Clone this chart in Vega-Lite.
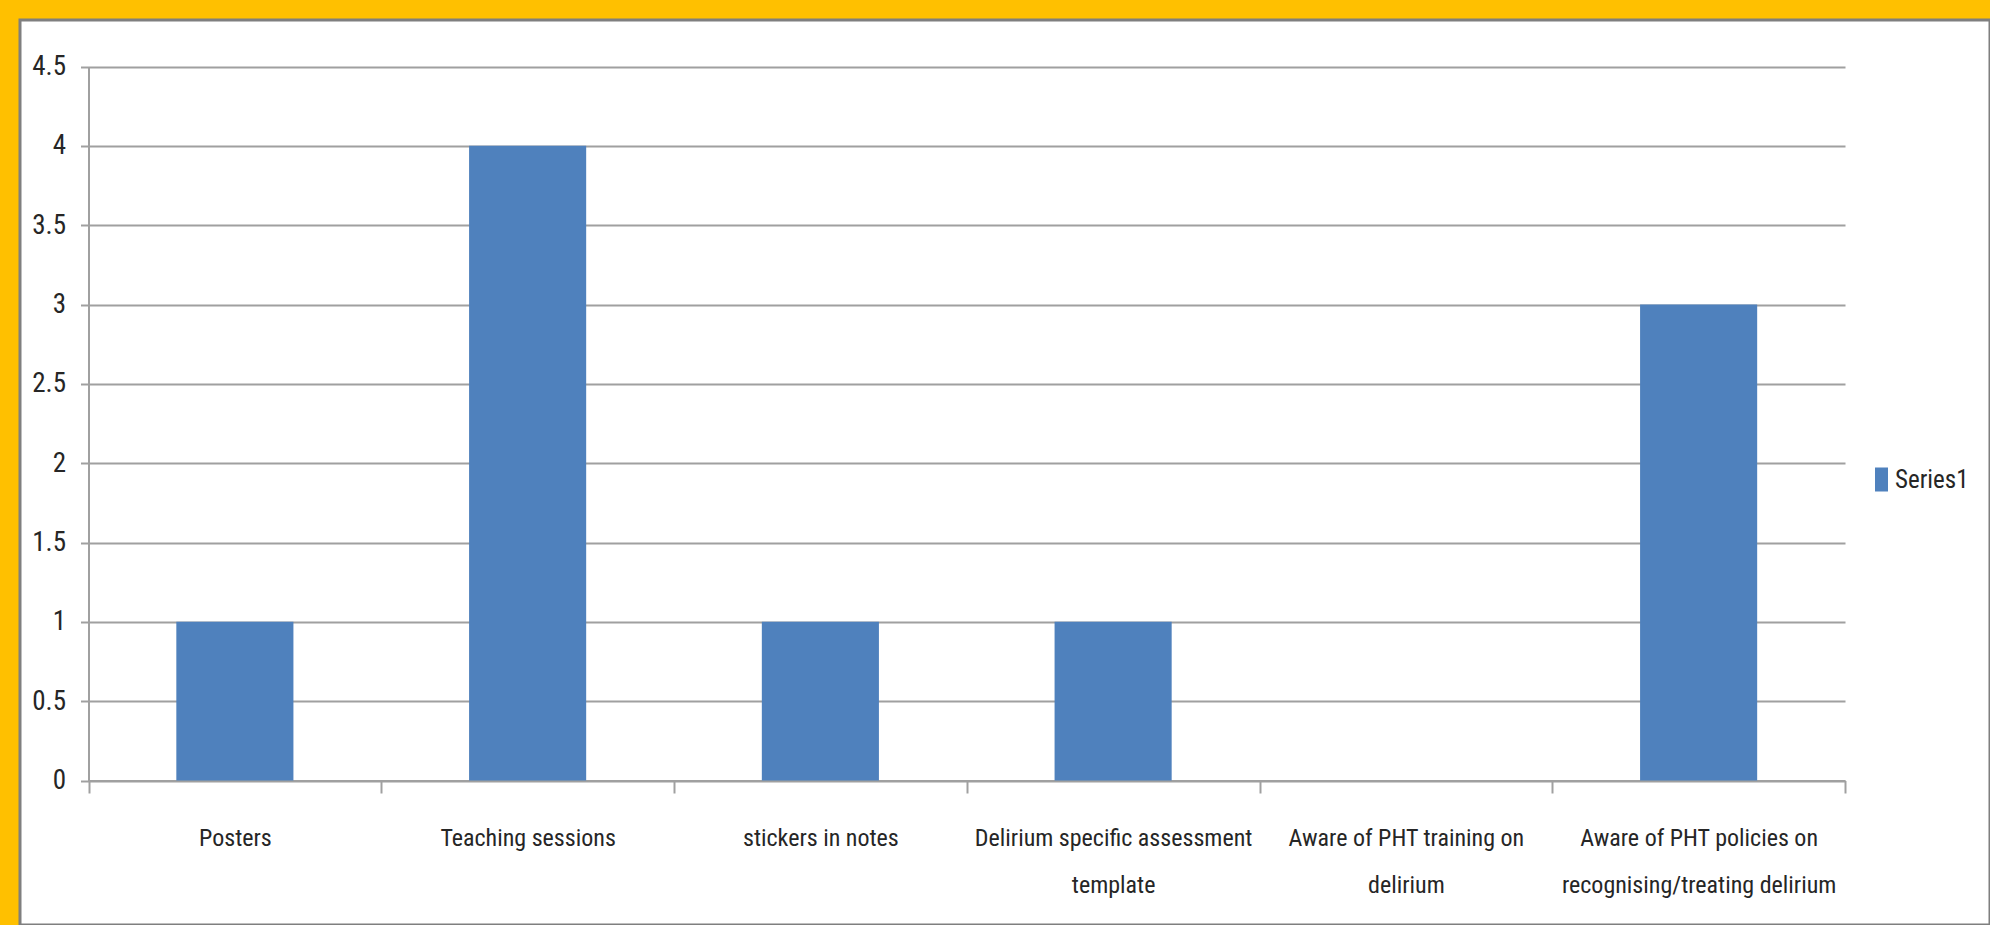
{
  "$schema": "https://vega.github.io/schema/vega-lite/v6.json",
  "autosize": {"type": "none"},
  "padding": {"left": 20, "top": 20, "right": 0, "bottom": 0},
  "width": 1970,
  "height": 905,
  "background": "#FFC000",
  "config": {
    "view": {"fill": "white", "stroke": "#7f7f7f", "strokeWidth": 3},
    "font": "Liberation Sans Narrow, Roboto Condensed, DejaVu Sans Condensed, sans-serif"
  },
  "data": {
    "values": [
      {"category": "Posters", "value": 1, "series": "Series1"},
      {"category": "Teaching sessions", "value": 4, "series": "Series1"},
      {"category": "stickers in notes", "value": 1, "series": "Series1"},
      {"category": "Delirium specific assessment template", "value": 1, "series": "Series1"},
      {"category": "Aware of PHT training on delirium", "value": 0, "series": "Series1"},
      {"category": "Aware of PHT policies on recognising/treating delirium", "value": 3, "series": "Series1"}
    ]
  },
  "mark": {"type": "bar", "width": {"band": 0.4}},
  "encoding": {
    "x": {
      "field": "category",
      "type": "nominal",
      "sort": null,
      "scale": {"range": [68.5, 1825], "paddingInner": 0, "paddingOuter": 0},
      "axis": {
        "title": null,
        "orient": "bottom",
        "offset": -144.5,
        "tickBand": "extent",
        "labelAngle": 0,
        "labelLimit": 0,
        "labelOverlap": false,
        "labelBound": false,
        "labelFont": "Liberation Sans Narrow, Roboto Condensed, DejaVu Sans Condensed, sans-serif",
        "labelFontSize": 24,
        "labelColor": "#262626",
        "labelPadding": 33,
        "labelLineHeight": 47,
        "labelBaseline": "top",
        "labelExpr": "datum.value == 'Delirium specific assessment template' ? ['Delirium specific assessment', 'template'] : datum.value == 'Aware of PHT training on delirium' ? ['Aware of PHT training on', 'delirium'] : datum.value == 'Aware of PHT policies on recognising/treating delirium' ? ['Aware of PHT policies on', 'recognising/treating delirium'] : datum.label",
        "domainColor": "#a0a0a0",
        "domainWidth": 2,
        "tickColor": "#a0a0a0",
        "tickWidth": 2,
        "tickSize": 12.5,
        "grid": false
      }
    },
    "y": {
      "field": "value",
      "type": "quantitative",
      "scale": {"domain": [0, 4.5], "range": [760.5, 46.5], "nice": false, "zero": true},
      "axis": {
        "title": null,
        "orient": "left",
        "offset": -68.5,
        "values": [0, 0.5, 1, 1.5, 2, 2.5, 3, 3.5, 4, 4.5],
        "format": ".1~f",
        "grid": true,
        "gridColor": "#a0a0a0",
        "gridWidth": 2,
        "gridOpacity": 1,
        "domainColor": "#a0a0a0",
        "domainWidth": 2,
        "tickColor": "#a0a0a0",
        "tickWidth": 2,
        "tickSize": 8,
        "labelFont": "Liberation Sans Narrow, Roboto Condensed, DejaVu Sans Condensed, sans-serif",
        "labelFontSize": 27,
        "labelColor": "#262626",
        "labelPadding": 15
      }
    },
    "color": {
      "field": "series",
      "type": "nominal",
      "scale": {"range": ["#4F81BD"]},
      "legend": {
        "title": null,
        "orient": "none",
        "legendX": 1849,
        "legendY": 447,
        "padding": 0,
        "symbolType": "M-0.54,-1H0.54V1H-0.54Z",
        "symbolSize": 576,
        "symbolStrokeWidth": 0,
        "symbolOpacity": 1,
        "labelOffset": 1,
        "labelFont": "Liberation Sans Narrow, Roboto Condensed, DejaVu Sans Condensed, sans-serif",
        "labelFontSize": 25,
        "labelColor": "#262626"
      }
    }
  }
}
